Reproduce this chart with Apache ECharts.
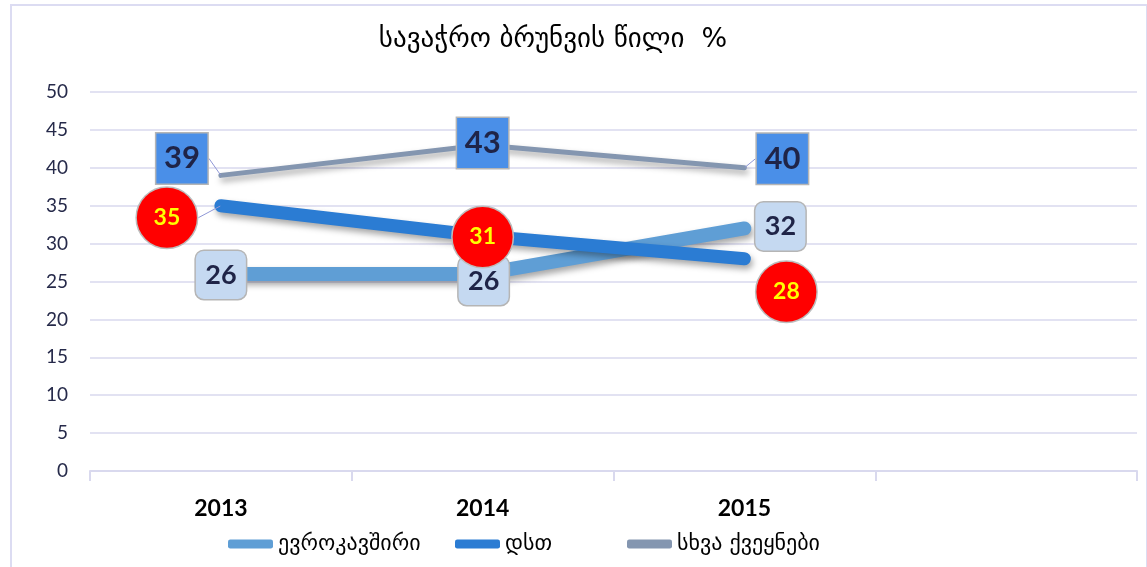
<!DOCTYPE html>
<html>
<head>
<meta charset="utf-8">
<script src="https://cdn.jsdelivr.net/npm/echarts@6/dist/echarts.min.js"></script>
<style>
  html, body { margin: 0; padding: 0; background: #fff; }
  #frame { position: absolute; left: 10px; top: 4px; width: 1134px; height: 580px;
           border: 2px solid #DCDCF2; border-bottom: none; }
  #chart { position: absolute; left: 0; top: 0; width: 1147px; height: 567px; }
</style>
</head>
<body>
<div id="frame"></div>
<div id="chart"></div>
<script>
const years = ["2013", "2014", "2015", ""];
const euValues = [26, 26, 32];
const cisValues = [35, 31, 28];
const otherValues = [39, 43, 40];
const seriesNames = ["ევროკავშირი", "დსთ", "სხვა ქვეყნები"];
const yTicks = { min: 0, max: 50, interval: 5 };

const chart = echarts.init(document.getElementById("chart"));
const font = "Lato, 'DejaVu Sans', sans-serif";
const geoFont = "'DejaVu Sans', sans-serif";
const shadow = { shadowColor: "rgba(0,0,0,0.35)", shadowBlur: 6, shadowOffsetX: 2, shadowOffsetY: 4 };

// label moves per point (label center relative to the point), and which get a leader line
const euShift = [[0, 1], [1, 7], [36, -2]];
const cisShift = [[-54, 12], [0, 1], [42, 33]];
const otherShift = [[-39, -17], [0, -2], [38, -9]];
const euLeader = [false, false, false];
const cisLeader = [true, false, false];
const otherLeader = [true, false, true];
const legendLeft = [228, 455, 627];

function makeSeries(name, values, color, width, label, shift, leader, z) {
  return {
    name: name,
    type: "line",
    data: values.map((v, i) => ({ value: v, labelLine: { show: leader[i] } })),
    z: z,
    symbol: "circle",
    symbolSize: 1,
    showSymbol: true,
    itemStyle: { color: color },
    lineStyle: Object.assign({ color: color, width: width, cap: "round" }, shadow),
    label: Object.assign({ show: true, position: "inside" }, label),
    labelLine: { show: true, lineStyle: { color: "#8F97D6", width: 1 } },
    labelLayout: function (p) {
      const s = shift[p.dataIndex];
      return { dx: s[0], dy: s[1] };
    },
    emphasis: { disabled: true }
  };
}

chart.setOption({
  animation: false,
  title: {
    text: "სავაჭრო ბრუნვის წილი  %",
    left: 548,
    top: 21,
    textAlign: "center",
    textStyle: { fontFamily: geoFont, fontSize: 27, fontWeight: "normal", color: "#000" }
  },
  legend: seriesNames.map((n, i) => ({
    left: legendLeft[i],
    top: 533,
    padding: 0,
    itemWidth: 45,
    itemHeight: 9,
    icon: "roundRect",
    textStyle: { fontFamily: geoFont, fontSize: 22, color: "#000" },
    data: [n]
  })),
  grid: { left: 90, right: 10, top: 92, bottom: 96 },
  xAxis: {
    type: "category",
    data: years,
    boundaryGap: true,
    axisLine: { lineStyle: { color: "#D9D9EE", width: 2 } },
    axisTick: { show: true, length: 10, lineStyle: { color: "#D9D9EE", width: 2 } },
    axisLabel: { margin: 26, fontFamily: font, fontSize: 23, fontWeight: "bold", color: "#000" }
  },
  yAxis: {
    type: "value",
    min: yTicks.min,
    max: yTicks.max,
    interval: yTicks.interval,
    axisLine: { show: false },
    axisTick: { show: false },
    splitLine: { lineStyle: { color: "#D9D9EE", width: 1.5 } },
    axisLabel: { margin: 22, fontFamily: font, fontSize: 19, color: "#262A4A" }
  },
  series: [
    makeSeries(seriesNames[0], euValues, "#5F9ED5", 14, {
      fontFamily: font, fontSize: 27, fontWeight: "bold", color: "#1F2447",
      backgroundColor: "#C5D9F1", borderColor: "#B5B5B5", borderWidth: 1.5, borderRadius: 8,
      width: 50, height: 48, lineHeight: 48, align: "center"
    }, euShift, euLeader, 2),
    makeSeries(seriesNames[1], cisValues, "#2B7CD3", 13, {
      fontFamily: font, fontSize: 23, fontWeight: "bold", color: "#FFFF00",
      backgroundColor: "#FF0000", borderColor: "#BDBDBD", borderWidth: 1.5, borderRadius: 31,
      width: 60, height: 60, lineHeight: 60, align: "center"
    }, cisShift, cisLeader, 3),
    makeSeries(seriesNames[2], otherValues, "#8496B0", 5, {
      fontFamily: font, fontSize: 31, fontWeight: "bold", color: "#1F2447",
      backgroundColor: "#4A8FE8", borderColor: "#B5B5B5", borderWidth: 1.5,
      width: 51, height: 50, lineHeight: 50, align: "center"
    }, otherShift, otherLeader, 4)
  ]
});
</script>
</body>
</html>
